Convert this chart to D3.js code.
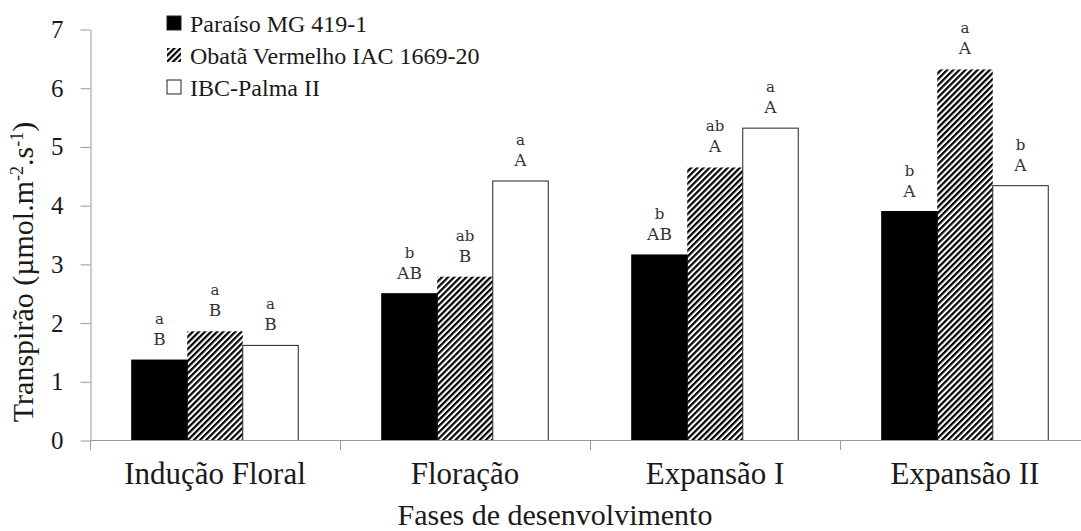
<!DOCTYPE html>
<html>
<head>
<meta charset="utf-8">
<script src="https://cdn.jsdelivr.net/npm/d3@7/dist/d3.min.js"></script>
<style>
  body { margin: 0; background: #fff; }
  .axis path, .axis line { stroke: #9a9a9a; }
</style>
</head>
<body>
<script>
// data
var categories = ["Indução Floral", "Floração", "Expansão I", "Expansão II"];
var seriesNames = ["Paraíso MG 419-1", "Obatã Vermelho IAC 1669-20", "IBC-Palma II"];
var paraiso = [1.37, 2.50, 3.16, 3.90];
var obata = [1.86, 2.79, 4.65, 6.32];
var ibc = [1.62, 4.42, 5.32, 4.34];
// letters over each bar (lower case: phases, upper case: cultivars)
var paraisoLower = ["a", "b", "b", "b"];
var paraisoUpper = ["B", "AB", "AB", "A"];
var obataLower = ["a", "ab", "ab", "a"];
var obataUpper = ["B", "B", "A", "A"];
var ibcLower = ["a", "a", "a", "b"];
var ibcUpper = ["B", "A", "A", "A"];
var yTicks = [0, 1, 2, 3, 4, 5, 6, 7];

var values = [paraiso, obata, ibc];
var lowers = [paraisoLower, obataLower, ibcLower];
var uppers = [paraisoUpper, obataUpper, ibcUpper];

var serif = "'Liberation Serif', 'Times New Roman', serif";
var ink = "#1a1a1a";

var svg = d3.select("body")
    .append("svg")
    .attr("width", 1081)
    .attr("height", 531)
    .style("background-color", "#fff");

// hatch pattern for the second cultivar
var defs = svg.append("defs");
defs.append("pattern")
    .attr("id", "hatch")
    .attr("patternUnits", "userSpaceOnUse")
    .attr("width", 4.3)
    .attr("height", 10)
    .attr("patternTransform", "rotate(45)")
    .append("rect")
    .attr("width", 2.2)
    .attr("height", 10)
    .attr("fill", "#000");

var fills = ["#000", "url(#hatch)", "#fff"];
var strokes = ["#000", "none", "#222"];

var x0 = d3.scaleBand()
    .domain(categories)
    .range([90, 1090])
    .paddingInner(0.334)
    .paddingOuter(0.167);

var x1 = d3.scaleBand()
    .domain(d3.range(seriesNames.length))
    .range([0, x0.bandwidth()]);

var y = d3.scaleLinear()
    .domain([0, 7])
    .range([440.5, 29.5]);

// y axis
var yAxis = svg.append("g")
    .attr("class", "axis")
    .attr("transform", "translate(90.5,0)")
    .call(d3.axisLeft(y).tickValues(yTicks).tickFormat(d3.format("d"))
        .tickSize(10).tickSizeOuter(0).tickPadding(17));
yAxis.selectAll("text")
    .style("font-family", serif)
    .style("font-size", "25px")
    .style("fill", ink);

// bars
var bars = [];
categories.forEach(function(c, i){
    values.forEach(function(s, j){
        bars.push({cat: c, s: j, v: s[i], lo: lowers[j][i], up: uppers[j][i]});
    });
});

svg.append("g").selectAll("rect")
    .data(bars)
    .enter()
    .append("rect")
    .attr("x", function(d){ return x0(d.cat) + x1(d.s); })
    .attr("y", function(d){ return y(d.v); })
    .attr("width", x1.bandwidth())
    .attr("height", function(d){ return y(0) - y(d.v); })
    .attr("fill", function(d){ return fills[d.s]; })
    .attr("stroke", function(d){ return strokes[d.s]; })
    .attr("stroke-width", 1);

// x axis: line plus ticks between categories
var xAxis = svg.append("g").attr("class", "axis");
xAxis.append("line")
    .attr("x1", 90).attr("x2", 1081)
    .attr("y1", 440.5).attr("y2", 440.5);
xAxis.selectAll(".xt")
    .data(d3.range(categories.length + 1))
    .enter()
    .append("line")
    .attr("class", "xt")
    .attr("x1", function(d){ return Math.round(90 + d * x0.step()) + 0.5; })
    .attr("x2", function(d){ return Math.round(90 + d * x0.step()) + 0.5; })
    .attr("y1", 440.5).attr("y2", 450);

svg.append("g").selectAll("text")
    .data(categories)
    .enter()
    .append("text")
    .attr("x", function(d){ return x0(d) + x0.bandwidth() / 2; })
    .attr("y", 484)
    .attr("text-anchor", "middle")
    .style("font-family", serif)
    .style("font-size", "31px")
    .style("fill", ink)
    .text(function(d){ return d; });

// letters over bars
var letters = svg.append("g");
letters.selectAll(".lo")
    .data(bars)
    .enter()
    .append("text")
    .attr("class", "lo")
    .attr("x", function(d){ return x0(d.cat) + x1(d.s) + x1.bandwidth() / 2; })
    .attr("y", function(d){ return y(d.v) - 36; })
    .attr("text-anchor", "middle")
    .style("font-family", "'DejaVu Serif', serif")
    .style("font-size", "15px")
    .style("fill", "#333")
    .text(function(d){ return d.lo; });
letters.selectAll(".up")
    .data(bars)
    .enter()
    .append("text")
    .attr("class", "up")
    .attr("x", function(d){ return x0(d.cat) + x1(d.s) + x1.bandwidth() / 2; })
    .attr("y", function(d){ return y(d.v) - 15; })
    .attr("text-anchor", "middle")
    .style("font-family", "'DejaVu Serif', serif")
    .style("font-size", "17px")
    .style("fill", "#333")
    .text(function(d){ return d.up; });

// axis titles
svg.append("text")
    .attr("x", 555)
    .attr("y", 525)
    .attr("text-anchor", "middle")
    .style("font-family", serif)
    .style("font-size", "30px")
    .style("fill", ink)
    .text("Fases de desenvolvimento");

var yt = svg.append("text")
    .attr("transform", "translate(33,272) rotate(-90)")
    .attr("text-anchor", "middle")
    .style("font-family", serif)
    .style("font-size", "30px")
    .style("fill", ink);
yt.append("tspan").text("Transpirão (µmol.m");
yt.append("tspan").attr("dy", -10).style("font-size", "18px").text("-2");
yt.append("tspan").attr("dy", 10).text(".s");
yt.append("tspan").attr("dy", -10).style("font-size", "18px").text("-1");
yt.append("tspan").attr("dy", 10).text(")");

// legend
var legend = svg.append("g").selectAll("g")
    .data(seriesNames)
    .enter()
    .append("g")
    .attr("transform", function(d, i){ return "translate(167," + (16 + i * 32) + ")"; });
legend.append("rect")
    .attr("width", 14)
    .attr("height", 14)
    .attr("fill", function(d, i){ return fills[i]; })
    .attr("stroke", function(d, i){ return i == 1 ? "none" : "#222"; });
legend.append("text")
    .attr("x", 23)
    .attr("y", 16)
    .style("font-family", serif)
    .style("font-size", "24px")
    .style("fill", ink)
    .text(function(d){ return d; });
</script>
</body>
</html>
